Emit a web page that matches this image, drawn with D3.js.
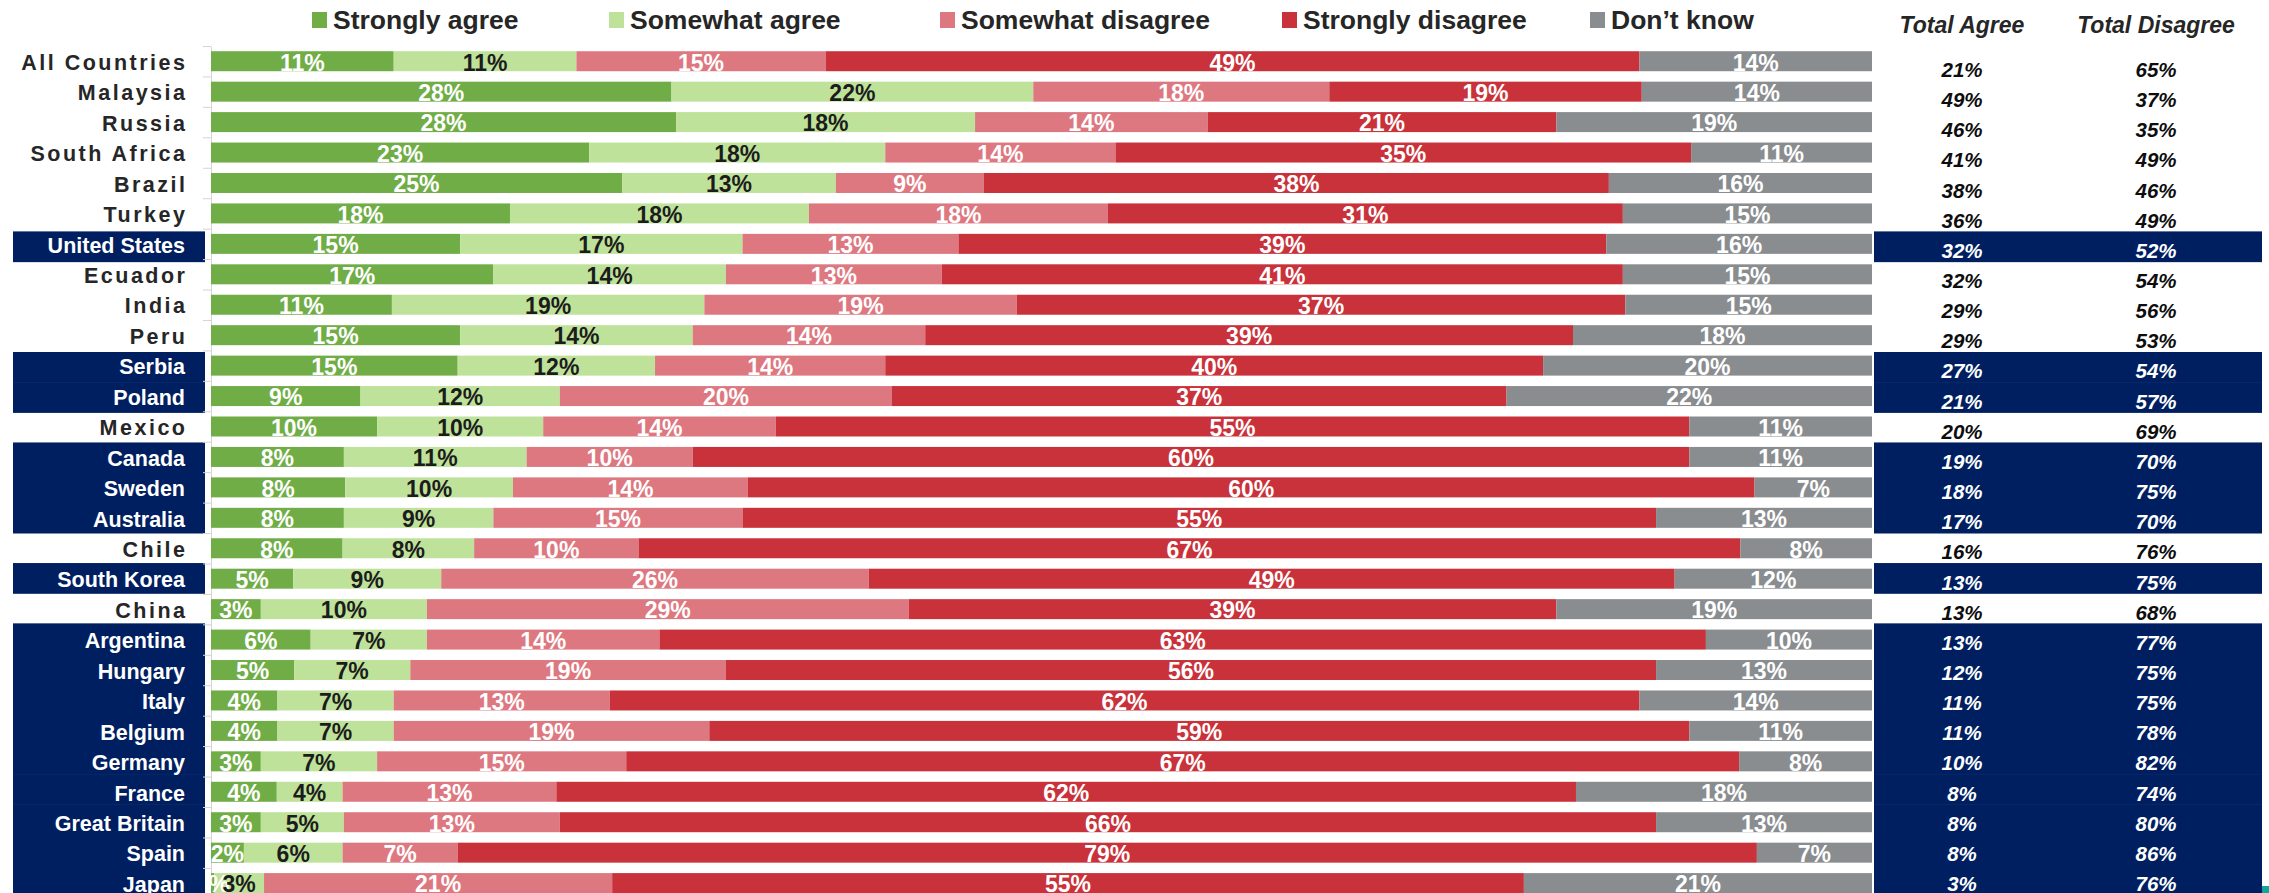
<!DOCTYPE html>
<html>
<head>
<meta charset="utf-8">
<script src="https://cdn.jsdelivr.net/npm/d3@7/dist/d3.min.js"></script>
<style>
  body { margin: 0; background: #fff; }
  svg { display: block; font-family: "Liberation Sans", Arial, sans-serif; }
</style>
</head>
<body>
<script>
// chart data
const countries = ["All Countries", "Malaysia", "Russia", "South Africa", "Brazil", "Turkey",
  "United States", "Ecuador", "India", "Peru", "Serbia", "Poland", "Mexico", "Canada", "Sweden",
  "Australia", "Chile", "South Korea", "China", "Argentina", "Hungary", "Italy", "Belgium",
  "Germany", "France", "Great Britain", "Spain", "Japan"];
const stronglyAgree     = [11, 28, 28, 23, 25, 18, 15, 17, 11, 15, 15, 9, 10, 8, 8, 8, 8, 5, 3, 6, 5, 4, 4, 3, 4, 3, 2, 0.2];
const somewhatAgree     = [11, 22, 18, 18, 13, 18, 17, 14, 19, 14, 12, 12, 10, 11, 10, 9, 8, 9, 10, 7, 7, 7, 7, 7, 4, 5, 6, 3];
const somewhatDisagree  = [15, 18, 14, 14, 9, 18, 13, 13, 19, 14, 14, 20, 14, 10, 14, 15, 10, 26, 29, 14, 19, 13, 19, 15, 13, 13, 7, 21];
const stronglyDisagree  = [49, 19, 21, 35, 38, 31, 39, 41, 37, 39, 40, 37, 55, 60, 60, 55, 67, 49, 39, 63, 56, 62, 59, 67, 62, 66, 79, 55];
const dontKnow          = [14, 14, 19, 11, 16, 15, 16, 15, 15, 18, 20, 22, 11, 11, 7, 13, 8, 12, 19, 10, 13, 14, 11, 8, 18, 13, 7, 21];
const totalAgree        = [21, 49, 46, 41, 38, 36, 32, 32, 29, 29, 27, 21, 20, 19, 18, 17, 16, 13, 13, 13, 12, 11, 11, 10, 8, 8, 8, 3];
const totalDisagree     = [65, 37, 35, 49, 46, 49, 52, 54, 56, 53, 54, 57, 69, 70, 75, 70, 76, 75, 68, 77, 75, 75, 78, 82, 74, 80, 86, 76];
const highlighted = ["United States", "Serbia", "Poland", "Canada", "Sweden", "Australia", "South Korea",
  "Argentina", "Hungary", "Italy", "Belgium", "Germany", "France", "Great Britain", "Spain", "Japan"];
const seriesNames = ["Strongly agree", "Somewhat agree", "Somewhat disagree", "Strongly disagree", "Don’t know"];
const tableHeaders = ["Total Agree", "Total Disagree"];

// styling
const seriesColors = ["#70ad47", "#bfe29a", "#de7880", "#c9323a", "#8a8d90"];
const labelColors = ["#ffffff", "#1c1c1c", "#ffffff", "#ffffff", "#ffffff"];
const navy = "#001f60";
const legendX = [312, 609, 940, 1282, 1590];

const W = 2269, H = 893;
const keys = ["sa", "swa", "swd", "sd", "dk"];
const rows = countries.map((c, i) => ({
  country: c,
  sa: stronglyAgree[i], swa: somewhatAgree[i], swd: somewhatDisagree[i],
  sd: stronglyDisagree[i], dk: dontKnow[i],
  ta: totalAgree[i], td: totalDisagree[i]
}));

const svg = d3.select("body").append("svg").attr("width", W).attr("height", H);

const x = d3.scaleLinear().domain([0, 1]).range([211, 1872]);
const step = 30.44;
const y = d3.scaleBand().domain(countries)
  .range([46, 46 + countries.length * step])
  .paddingInner(0.343).paddingOuter(0.1715);
// the totals table on the right runs at a slightly tighter pitch
const ty = d3.scaleBand().domain(countries).range([54.5, 54.5 + countries.length * 30.15]);
const isHi = c => highlighted.includes(c);

// navy highlight bands
svg.append("g").selectAll("rect")
  .data(countries.filter(isHi))
  .enter().append("rect")
  .attr("x", 13).attr("width", 192)
  .attr("y", d => ty(d) - 4).attr("height", ty.step() + 0.6)
  .attr("fill", navy);
svg.append("g").selectAll("rect")
  .data(countries.filter(isHi))
  .enter().append("rect")
  .attr("x", 1874).attr("width", 388)
  .attr("y", d => ty(d) - 4).attr("height", ty.step() + 0.6)
  .attr("fill", navy);

// category axis with ticks between rows
const idx = d3.scaleLinear().domain([0, countries.length]).range([46, 46 + countries.length * step]);
const axis = svg.append("g")
  .attr("transform", "translate(211,0)")
  .call(d3.axisLeft(idx).tickValues(d3.range(countries.length + 1))
    .tickFormat("").tickSize(8).tickSizeOuter(0));
axis.selectAll("line, path").attr("stroke", "#d4d4d4");

// stacked bars
const stacked = d3.stack().keys(keys).offset(d3.stackOffsetExpand)(rows);
const layers = svg.append("g").selectAll("g")
  .data(stacked)
  .enter().append("g")
  .attr("fill", (d, i) => seriesColors[i]);
layers.selectAll("rect")
  .data(d => d)
  .enter().append("rect")
  .attr("x", d => x(d[0]))
  .attr("width", d => x(d[1]) - x(d[0]))
  .attr("y", d => y(d.data.country))
  .attr("height", y.bandwidth());

// bar labels, clipped to the plot area
svg.append("clipPath").attr("id", "plotclip")
  .append("rect").attr("x", 211).attr("y", 0).attr("width", 1661).attr("height", H);
const fmt = d3.format(".0f");
const lab = svg.append("g").attr("clip-path", "url(#plotclip)")
  .style("font-size", "23px").style("font-weight", 700).attr("text-anchor", "middle");
stacked.forEach((layer, li) => {
  lab.append("g").attr("fill", labelColors[li])
    .selectAll("text")
    .data(layer)
    .enter().append("text")
    .attr("x", d => (x(d[0]) + x(d[1])) / 2)
    .attr("y", d => y(d.data.country) + y.bandwidth() / 2 + 1)
    .attr("dy", "0.36em")
    .text(d => fmt(d.data[keys[li]]) + "%");
});

// country labels
svg.append("g").selectAll("text")
  .data(countries)
  .enter().append("text")
  .attr("x", d => isHi(d) ? 185 : 187.5)
  .attr("y", d => y(d) + y.bandwidth() / 2 + 1)
  .attr("dy", "0.36em")
  .attr("text-anchor", "end")
  .style("font-size", "21.5px").style("font-weight", 700)
  .style("letter-spacing", d => isHi(d) ? "0px" : "2.5px")
  .attr("fill", d => isHi(d) ? "#ffffff" : "#262626")
  .text(d => d);

// legend
const leg = svg.append("g").selectAll("g")
  .data(seriesNames)
  .enter().append("g")
  .attr("transform", (d, i) => `translate(${legendX[i]},0)`);
leg.append("rect").attr("x", 0).attr("y", 12).attr("width", 15).attr("height", 16)
  .attr("fill", (d, i) => seriesColors[i]);
leg.append("text").attr("x", 21).attr("y", 28.5)
  .style("font-size", "26.5px").style("font-weight", 700).attr("fill", "#262626")
  .text(d => d);

// totals table
const colX = [1962, 2156];
svg.append("g").selectAll("text")
  .data(tableHeaders)
  .enter().append("text")
  .attr("x", (d, i) => colX[i]).attr("y", 33)
  .attr("text-anchor", "middle")
  .style("font-size", "23px").style("font-weight", 700).style("font-style", "italic")
  .attr("fill", "#262626")
  .text(d => d);
["ta", "td"].forEach((k, ci) => {
  svg.append("g").selectAll("text")
    .data(rows)
    .enter().append("text")
    .attr("x", colX[ci])
    .attr("y", d => ty(d.country) + ty.bandwidth() / 2)
    .attr("dy", "0.36em")
    .attr("text-anchor", "middle")
    .style("font-size", "20.5px").style("font-weight", 700).style("font-style", "italic")
    .attr("fill", d => isHi(d.country) ? "#ffffff" : "#0d0d0d")
    .text(d => d[k] + "%");
});

// small teal slide mark, bottom right
svg.append("rect").attr("x", 2262).attr("y", 886).attr("width", 7).attr("height", 7).attr("fill", "#12a59c");
</script>
</body>
</html>
